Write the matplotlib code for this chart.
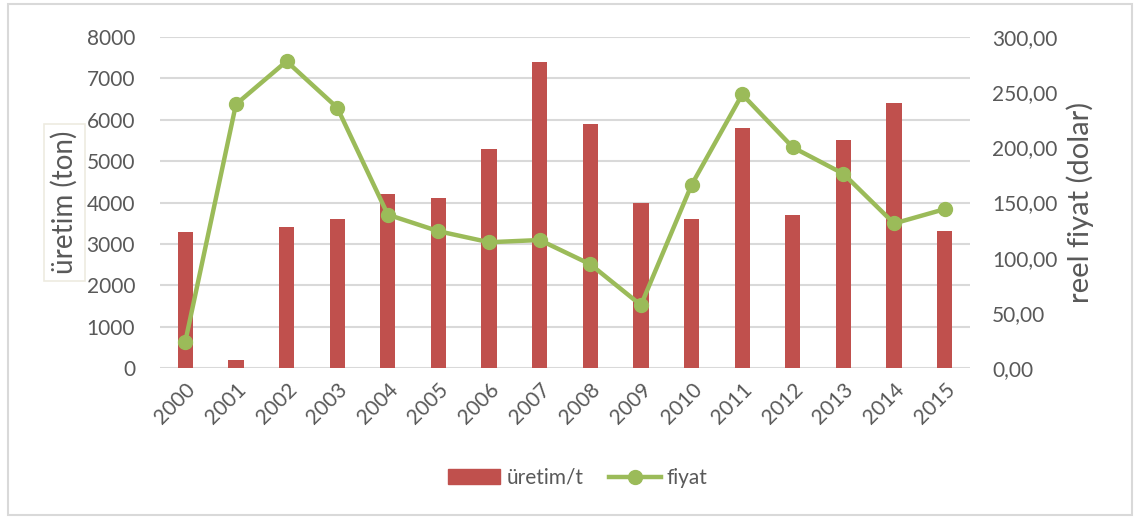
import matplotlib.pyplot as plt
from matplotlib.patches import Rectangle
from matplotlib.lines import Line2D
import numpy as np

plt.rcParams['font.family'] = ['Lato', 'DejaVu Sans']

years = ['2000', '2001', '2002', '2003', '2004', '2005', '2006', '2007',
         '2008', '2009', '2010', '2011', '2012', '2013', '2014', '2015']
uretim = [3280, 190, 3400, 3600, 4200, 4100, 5300, 7400,
          5900, 4000, 3600, 5800, 3700, 5500, 6400, 3300]
fiyat = [24, 239, 278, 236, 139, 124, 114, 116,
         94, 57, 166, 248, 200, 176, 131, 144]

barColor = '#C0504D'
lineColor = '#9BBB59'
textColor = '#595959'

fig = plt.figure(figsize=(11.38, 5.19), dpi=100)
ax = fig.add_axes([0.1406, 0.2909, 0.7118, 0.6378])
ax2 = ax.twinx()

x = np.arange(len(years))
ax.bar(x, uretim, width=0.3, color=barColor, zorder=2)
ax2.plot(x, fiyat, color=lineColor, linewidth=3.2, marker='o', markersize=10, zorder=3)

ax.set_xlim(-0.5, len(years) - 0.5)
ax.set_ylim(0, 8000)
ax2.set_ylim(0, 300)
ax.set_yticks(np.arange(0, 8001, 1000))
ax2.set_yticks(np.arange(0, 301, 50))
ax2.set_yticklabels([f"{v:.2f}".replace('.', ',') for v in np.arange(0, 301, 50)])

ax.set_xticks(x)
ax.set_xticklabels(years, rotation=45, ha='right', rotation_mode='anchor')

ax.grid(axis='y', color='#D9D9D9', linewidth=1.5, zorder=0)
ax.set_axisbelow(True)
for a in (ax, ax2):
    for s in a.spines.values():
        s.set_visible(False)
    a.tick_params(length=0, labelsize=15, colors=textColor)
ax.tick_params(axis='y', pad=18)
ax.tick_params(axis='x', pad=8)
ax2.tick_params(axis='y', pad=16)

ax.set_ylabel('üretim (ton)', fontsize=20, color=textColor, labelpad=6,
              bbox=dict(boxstyle='square,pad=0.25', fc='white', ec='#EEEBE0', lw=1.2))
ax2.set_ylabel('reel fiyat (dolar)', fontsize=21, color=textColor, labelpad=6)

handles = [Rectangle((0, 0), 1, 1, color=barColor),
           Line2D([0], [0], color=lineColor, linewidth=3.2, marker='o', markersize=10)]
fig.legend(handles, ['üretim/t', 'fiyat'], loc='center', bbox_to_anchor=(0.508, 0.079),
           ncol=2, frameon=False, fontsize=15, labelcolor=textColor,
           handlelength=2.5, handletextpad=0.3, columnspacing=1.2)

fig.patches.append(Rectangle((8 / 1138, 4 / 519), 1124 / 1138, 511 / 519,
                             transform=fig.transFigure, fill=False,
                             edgecolor='#D9D9D9', linewidth=1.5))

fig.savefig('out.png', dpi=100)
